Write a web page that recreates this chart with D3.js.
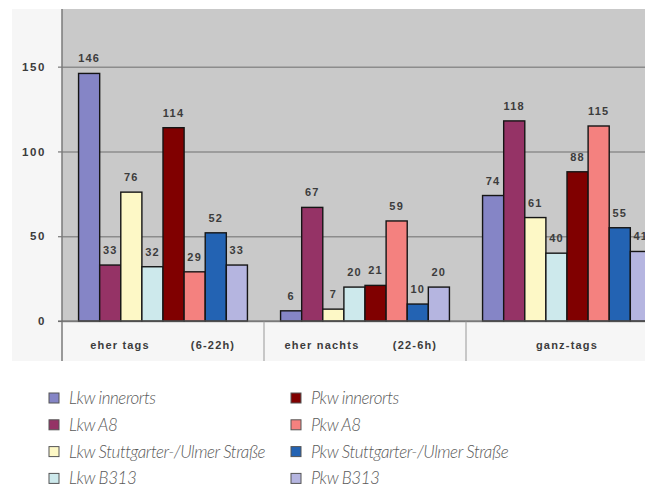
<!DOCTYPE html>
<html>
<head>
<meta charset="utf-8">
<script src="https://cdn.jsdelivr.net/npm/d3@7"></script>
<style>
  body { margin: 0; background: #fff; }
  svg { display: block; }
  .tick-label, .value-label, .cat-label {
    font-family: "Liberation Sans", Arial, sans-serif;
    font-weight: bold;
    font-size: 11px;
    letter-spacing: 1.2px;
    fill: #3c3c3c;
  }
  .tick-label { font-size: 11.5px; letter-spacing: 1.6px; }
  .legend-label {
    font-family: "Lato", sans-serif;
    font-style: italic;
    font-weight: 300;
    font-size: 17px;
    letter-spacing: -0.45px;
    fill: #5a5a5a;
  }
</style>
</head>
<body>
<svg id="chart"></svg>
<script>
// categories (two label pieces each, as in the original Excel axis)
const categories = ['eher tags', 'eher nachts', 'ganz-tags'];
const catLeft = ['eher tags', 'eher nachts', 'ganz-tags'];
const catRight = ['(6-22h)', '(22-6h)', ''];

const series = [
  'Lkw innerorts', 'Lkw A8', 'Lkw Stuttgarter-/Ulmer Straße', 'Lkw B313',
  'Pkw innerorts', 'Pkw A8', 'Pkw Stuttgarter-/Ulmer Straße', 'Pkw B313'
];
const colors = [
  '#8585c6', '#953366', '#fdf8c6', '#cde9ec',
  '#800000', '#f4817f', '#2363b3', '#b5b5e0'
];

// values per category, in series order
const ehertags   = [146, 33, 76, 32, 114, 29, 52, 33];
const ehernachts = [6, 67, 7, 20, 21, 59, 10, 20];
const ganztags   = [74, 118, 61, 40, 88, 115, 55, 41];
const values = [ehertags, ehernachts, ganztags];

const yTicks = [0, 50, 100, 150];

const width = 645, height = 491;
const svg = d3.select('#chart').attr('width', width).attr('height', height);

const plot = {left: 62, top: 9, bottom: 321, band: 361};

const xScale = d3.scaleBand()
  .domain(categories)
  .range([plot.left, plot.left + 3 * 202])
  .padding(0);

const xInner = d3.scaleBand()
  .domain(series)
  .range([0, xScale.bandwidth()])
  .paddingInner(0)
  .paddingOuter(0.785);

const yScale = d3.scaleLinear()
  .domain([0, 184])
  .range([plot.bottom, plot.top]);

// panel + plot backgrounds
svg.append('rect')
  .attr('x', 12).attr('y', plot.top)
  .attr('width', width - 12).attr('height', plot.band - plot.top)
  .attr('fill', '#f6f6f6');

svg.append('rect')
  .attr('x', plot.left).attr('y', plot.top)
  .attr('width', width - plot.left).attr('height', plot.bottom - plot.top)
  .attr('fill', '#c9c9c9');

// gridlines
const grid = svg.append('g')
  .attr('transform', `translate(${plot.left},0)`)
  .call(d3.axisLeft(yScale).tickValues(yTicks).tickSize(-(width - plot.left)).tickFormat(''));
grid.select('.domain').remove();
grid.selectAll('.tick line').attr('stroke', '#8c8c8c').attr('stroke-width', 1.5);

// category separators
svg.append('g').selectAll('line')
  .data(categories.slice(1))
  .join('line')
  .attr('x1', d => xScale(d)).attr('x2', d => xScale(d))
  .attr('y1', plot.bottom).attr('y2', plot.band)
  .attr('stroke', '#a8a8a8').attr('stroke-width', 1.2);

// bars
const groups = svg.append('g').selectAll('g')
  .data(categories)
  .join('g')
  .attr('transform', d => `translate(${xScale(d)},0)`);

groups.selectAll('rect')
  .data((c, i) => values[i].map((v, j) => ({s: series[j], v, color: colors[j]})))
  .join('rect')
  .attr('x', d => xInner(d.s))
  .attr('y', d => yScale(d.v))
  .attr('width', xInner.bandwidth())
  .attr('height', d => yScale(0) - yScale(d.v))
  .attr('fill', d => d.color)
  .attr('stroke', '#151515')
  .attr('stroke-width', 1.4);

groups.selectAll('text')
  .data((c, i) => values[i].map((v, j) => ({s: series[j], v})))
  .join('text')
  .attr('class', 'value-label')
  .attr('x', d => xInner(d.s) + xInner.bandwidth() / 2)
  .attr('y', d => yScale(d.v) - 11)
  .attr('text-anchor', 'middle')
  .text(d => d.v);

// y axis
const yAxisG = svg.append('g')
  .attr('transform', `translate(${plot.left},0)`)
  .call(d3.axisLeft(yScale).tickValues(yTicks).tickSize(4).tickPadding(12));
yAxisG.select('.domain').remove();
yAxisG.selectAll('.tick line').attr('stroke', '#777').attr('stroke-width', 1.2);
yAxisG.selectAll('.tick text').attr('class', 'tick-label').attr('font-size', null).attr('font-family', null);

svg.append('line')
  .attr('x1', plot.left).attr('x2', plot.left)
  .attr('y1', plot.top).attr('y2', plot.band)
  .attr('stroke', '#7a7a7a').attr('stroke-width', 1.5);

// zero line
svg.append('line')
  .attr('x1', plot.left - 4).attr('x2', width)
  .attr('y1', yScale(0)).attr('y2', yScale(0))
  .attr('stroke', '#666').attr('stroke-width', 1.2);

// category labels
const catY = 349;
svg.append('g').selectAll('text')
  .data(categories)
  .join('text')
  .attr('class', 'cat-label')
  .attr('x', (d, i) => xScale(d) + xScale.bandwidth() / 2 + (catRight[i] ? -43 : 0))
  .attr('y', catY)
  .attr('text-anchor', 'middle')
  .text((d, i) => catLeft[i]);

svg.append('g').selectAll('text')
  .data(categories.filter((d, i) => catRight[i]))
  .join('text')
  .attr('class', 'cat-label')
  .attr('x', (d) => xScale(d) + xScale.bandwidth() / 2 + 50)
  .attr('y', catY)
  .attr('text-anchor', 'middle')
  .text(d => catRight[categories.indexOf(d)]);

// legend: two columns of four
const legend = svg.append('g').selectAll('g')
  .data(series)
  .join('g')
  .attr('transform', (d, i) => `translate(${i < 4 ? 49 : 291},${398 + (i % 4) * 26.8})`);

legend.append('rect')
  .attr('x', 0).attr('y', -5)
  .attr('width', 10).attr('height', 10)
  .attr('fill', (d, i) => colors[i])
  .attr('stroke', '#555').attr('stroke-width', 1);

legend.append('text')
  .attr('class', 'legend-label')
  .attr('x', 20).attr('y', 6)
  .text(d => d);
</script>
</body>
</html>
